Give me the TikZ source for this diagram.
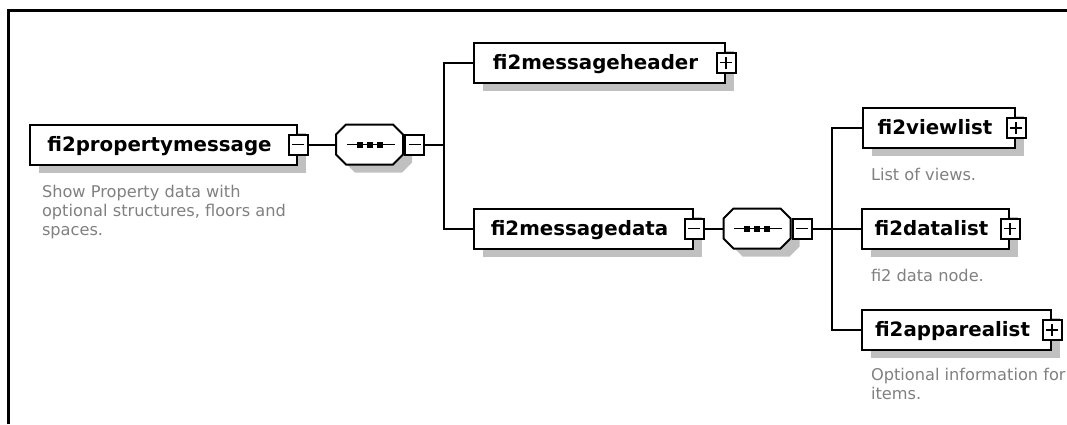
\documentclass[tikz,border=0pt]{standalone}
\usepackage{fontspec}
\setsansfont{DejaVu Sans}
\usetikzlibrary{shadows,positioning}
\definecolor{shadowgray}{RGB}{192,192,192}
\definecolor{descgray}{RGB}{128,128,128}
\tikzset{
	boxshadow/.style={drop shadow={shadow xshift=9pt, shadow yshift=-8pt, fill=shadowgray, opacity=1}},
	elem/.style={draw, fill=white, rectangle, minimum height=40pt, inner sep=0pt, boxshadow,
		font=\sffamily\bfseries\fontsize{19.8}{22}\selectfont, text height=16pt, text depth=3pt,
		execute at end node={\hspace*{8pt}}},
	seqbox/.style={rectangle, minimum width=67pt, minimum height=40pt, inner sep=0pt},
	expbox/.style={draw, fill=white, rectangle, minimum width=19pt, minimum height=20pt, inner sep=0pt},
	expminus/.style={expbox, path picture={
		\draw[line width=1.4pt] ([xshift=-6pt]path picture bounding box.center) -- ([xshift=6pt]path picture bounding box.center);}},
	expplus/.style={expbox, path picture={
		\draw[line width=1.4pt] ([xshift=-6pt]path picture bounding box.center) -- ([xshift=6pt]path picture bounding box.center)
			([yshift=-6pt]path picture bounding box.center) -- ([yshift=6pt]path picture bounding box.center);}},
	desc/.style={anchor=north west, inner sep=0pt, text=descgray, align=left,
		font=\sffamily\fontsize{16.2}{19}\selectfont}
}
\begin{document}
\begin{tikzpicture}[x=1pt, y=-1pt, line width=2pt]
	\useasboundingbox (0,0) rectangle (1067,424);
	\draw[line width=3pt] (8.5,424) -- (8.5,10.5) -- (1067,10.5);
	% elements
	\node[elem, minimum width=267pt, anchor=west] (pm) at (29,144.5) {fi2propertymessage};
	\node[elem, minimum width=251pt, anchor=west] (mh) at (473,62.5) {fi2messageheader};
	\node[elem, minimum width=219pt, anchor=west] (md) at (473,228.5) {fi2messagedata};
	\node[elem, minimum width=152pt, anchor=west] (vl) at (862,128) {fi2viewlist};
	\node[elem, minimum width=147pt, anchor=west] (dl) at (861,228.5) {fi2datalist};
	\node[elem, minimum width=189pt, anchor=west] (al) at (861,330) {fi2apparealist};
	% sequences
	\node[seqbox] (s1) at (369.5,144.5) {};
	\node[seqbox] (s2) at (757,228.5) {};
	\foreach \s in {s1,s2} {
		\begin{scope}[shift={(\s.center)}]
			\fill[shadowgray, shift={(9,8)}] (-23.5,-20) -- (23.5,-20) -- (33.5,-10) -- (33.5,10)
				-- (23.5,20) -- (-23.5,20) -- (-33.5,10) -- (-33.5,-10) -- cycle;
			\filldraw[fill=white] (-23.5,-20) -- (23.5,-20) -- (33.5,-10) -- (33.5,10)
				-- (23.5,20) -- (-23.5,20) -- (-33.5,10) -- (-33.5,-10) -- cycle;
			\draw[line width=1.4pt] (-23,0) -- (25,0);
			\foreach \d in {-10,0,10}
				\fill (\d-3,-3) rectangle (\d+3,3);
		\end{scope}
	}
	% expanders
	\node[expminus] (pmx) at (pm.east) {};
	\node[expminus, anchor=west] (s1x) at (s1.east) {};
	\node[expplus] (mhx) at (mh.east) {};
	\node[expminus] (mdx) at (md.east) {};
	\node[expminus, anchor=west] (s2x) at (s2.east) {};
	\node[expplus] (vlx) at (vl.east) {};
	\node[expplus] (dlx) at (dl.east) {};
	\node[expplus] (alx) at (al.east) {};
	% annotations
	\node[desc] (pmd) at (41,184) {Show Property data with\\optional structures, floors and\\spaces.};
	\node[desc] (vld) at (870,167) {List of views.};
	\node[desc] (dld) at (870,268) {fi2 data node.};
	\node[desc] (ald) at (870,367) {Optional information for\\items.};
	% connectors
	\path (444,144.5) coordinate (b1) (832,228.5) coordinate (b2);
	\draw (pmx.east) -- (s1.west);
	\draw (s1x.east) -- (b1);
	\draw (mh.west) -| (b1) |- (md.west);
	\draw (mdx.east) -- (s2.west);
	\draw (s2x.east) -- (b2);
	\draw (vl.west) -| (b2) |- (al.west);
	\draw (b2) -- (dl.west);
\end{tikzpicture}
\end{document}
